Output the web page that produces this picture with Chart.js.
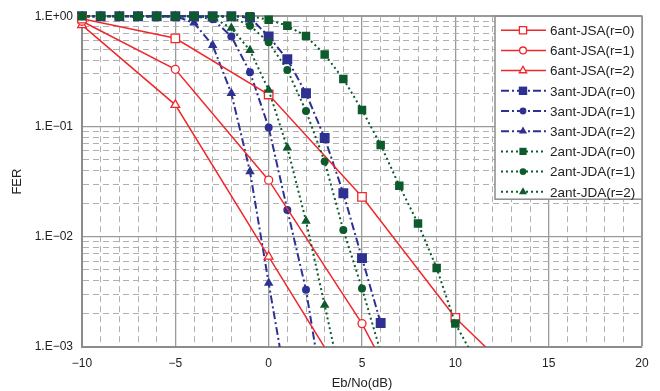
<!DOCTYPE html>
<html>
<head>
<meta charset="utf-8">
<script src="https://cdn.jsdelivr.net/npm/chart.js@4.4.1/dist/chart.umd.min.js"></script>
<style>
  html, body { margin: 0; padding: 0; background: #fff; }
  #wrap { width: 660px; height: 391px; }
</style>
</head>
<body>
<div id="wrap"><canvas id="ferChart"></canvas></div>
<script>
// FER vs Eb/No
const jsaX = [-10, -5, 0, 5, 10, 15];
const jsaR0 = [0.95, 0.63, 0.195, 0.023, 0.00184, 0.00028];
const jsaR1 = [0.90, 0.33, 0.0326, 0.00163, 0.00004];
const jsaR2 = [0.83, 0.157, 0.0066, 0.00028];

const jda3X = [-10, -9, -8, -7, -6, -5, -4, -3, -2, -1, 0, 1, 2, 3, 4, 5, 6];
const jda3R0 = [1, 1, 1, 1, 1, 1, 1, 1, 1, 0.97, 0.656, 0.407, 0.2, 0.0785, 0.0248, 0.0064, 0.00165];
const jda3R1 = [1, 1, 1, 1, 1, 1, 1, 0.94, 0.656, 0.31, 0.098, 0.0175, 0.0033, 0.0003];
const jda3R2 = [1, 1, 1, 1, 1, 1, 0.87, 0.545, 0.2, 0.039, 0.0038, 0.0004];

const jda2X = [-10, -9, -8, -7, -6, -5, -4, -3, -2, -1, 0, 1, 2, 3, 4, 5, 6, 7, 8, 9, 10, 11];
const jda2R0 = [1, 1, 1, 1, 1, 1, 1, 1, 1, 1, 0.93, 0.82, 0.66, 0.45, 0.27, 0.141, 0.068, 0.029, 0.0132, 0.0052, 0.00163, 0.0008];
const jda2R1 = [1, 1, 1, 1, 1, 1, 1, 1, 0.98, 0.82, 0.58, 0.325, 0.138, 0.048, 0.0115, 0.0034, 0.0009];
const jda2R2 = [1, 1, 1, 1, 1, 1, 1, 0.97, 0.78, 0.49, 0.214, 0.064, 0.0139, 0.0024, 0.0004];

const yDecades = [0.001, 0.01, 0.1, 1];
const yTickLabels = ['1.E\u221203', '1.E\u221202', '1.E\u221201', '1.E+00'];
const mantissas = [1, 2, 3, 4, 5, 6, 7, 8, 9];

const RED = '#f0282d';
const BLUE = '#2e3191';
const GREEN = '#0d5a2c';

function pts(xs, ys) {
    return ys.map((y, i) => ({ x: xs[i], y: y }));
}

function jsaSet(label, xs, ys, style, r) {
    return {
        label: label, data: pts(xs, ys), order: 1,
        borderColor: RED, borderWidth: 1.5, borderDash: [],
        pointStyle: style, pointRadius: r, pointBorderWidth: 1.3,
        pointBackgroundColor: '#fff', pointBorderColor: RED
    };
}
function jdaSet(label, xs, ys, color, dash, style, r, order) {
    return {
        label: label, data: pts(xs, ys), order: order,
        borderColor: color, borderWidth: 2, borderDash: dash,
        pointStyle: style, pointRadius: r, pointBorderWidth: 0,
        pointBackgroundColor: color, pointBorderColor: color
    };
}

const dashDot = [8, 3, 2, 3];
const dotted = [2, 3];

const datasets = [
    jsaSet('6ant-JSA(r=0)', jsaX, jsaR0, 'rect', 6),
    jsaSet('6ant-JSA(r=1)', jsaX, jsaR1, 'circle', 4),
    jsaSet('6ant-JSA(r=2)', jsaX, jsaR2, 'triangle', 5),
    jdaSet('3ant-JDA(r=0)', jda3X, jda3R0, BLUE, dashDot, 'rect', 7, 2),
    jdaSet('3ant-JDA(r=1)', jda3X, jda3R1, BLUE, dashDot, 'circle', 4, 2),
    jdaSet('3ant-JDA(r=2)', jda3X, jda3R2, BLUE, dashDot, 'triangle', 5.5, 2),
    jdaSet('2ant-JDA(r=0)', jda2X, jda2R0, GREEN, dotted, 'rect', 6, 0),
    jdaSet('2ant-JDA(r=1)', jda2X, jda2R1, GREEN, dotted, 'circle', 4, 0),
    jdaSet('2ant-JDA(r=2)', jda2X, jda2R2, GREEN, dotted, 'triangle', 5.5, 0)
];
datasets.forEach(d => { d.clip = { left: 8, top: 8, right: 8, bottom: 0 }; d.tension = 0; });

function drawMarker(ctx, style, x, y, r, fill, stroke, bw) {
    ctx.save();
    ctx.beginPath();
    if (style === 'rect') {
        const s = Math.SQRT1_2 * r;
        ctx.rect(x - s, y - s, 2 * s, 2 * s);
    } else if (style === 'circle') {
        ctx.arc(x, y, r, 0, Math.PI * 2);
    } else {
        ctx.moveTo(x, y - r);
        ctx.lineTo(x + r * 0.866, y + r * 0.5);
        ctx.lineTo(x - r * 0.866, y + r * 0.5);
        ctx.closePath();
    }
    ctx.fillStyle = fill;
    ctx.fill();
    if (bw > 0) {
        ctx.lineWidth = bw;
        ctx.strokeStyle = stroke;
        ctx.stroke();
    }
    ctx.restore();
}

// legend box drawn inside the top-right corner of the plot
const boxLegend = {
    id: 'boxLegend',
    afterDatasetsDraw(chart) {
        const ctx = chart.ctx;
        const area = chart.chartArea;
        const w = 147, h = 183;
        const left = area.right - w, top = area.top;
        ctx.save();
        ctx.fillStyle = '#fff';
        ctx.fillRect(left, top, w, h);
        ctx.strokeStyle = '#8c8c8c';
        ctx.lineWidth = 1.5;
        ctx.strokeRect(left, top, w, h);
        chart.data.datasets.forEach((d, i) => {
            const y = top + 14 + i * 20.2;
            ctx.save();
            ctx.strokeStyle = d.borderColor;
            ctx.lineWidth = d.borderWidth;
            ctx.setLineDash(d.borderDash);
            ctx.beginPath();
            ctx.moveTo(left + 6, y);
            ctx.lineTo(left + 51, y);
            ctx.stroke();
            ctx.restore();
            drawMarker(ctx, d.pointStyle, left + 28, y, d.pointRadius * 0.85,
                d.pointBackgroundColor, d.pointBorderColor, d.pointBorderWidth);
            ctx.fillStyle = '#222';
            ctx.font = '13.5px "Liberation Sans", Arial, sans-serif';
            ctx.textBaseline = 'middle';
            ctx.textAlign = 'left';
            ctx.fillText(d.label, left + 55, y + 1);
        });
        ctx.restore();
    }
};

const tickFont = { family: '"Liberation Sans", Arial, sans-serif', size: 12 };

new Chart(document.getElementById('ferChart').getContext('2d'), {
    type: 'line',
    data: { datasets: datasets },
    plugins: [boxLegend],
    options: {
        responsive: true,
        maintainAspectRatio: false,
        animation: false,
        devicePixelRatio: 1,
        layout: { padding: { left: 0, right: 18, top: 14, bottom: 0 } },
        plugins: { legend: { display: false }, tooltip: { enabled: false } },
        scales: {
            x: {
                type: 'linear', min: -10, max: 20,
                afterFit: s => { s.height = 44; },
                ticks: {
                    stepSize: 1, autoSkip: false, maxRotation: 0, padding: 9,
                    color: '#222', font: tickFont,
                    callback: v => (v % 5 === 0 ? (v < 0 ? '\u2212' + Math.abs(v) : String(v)) : '')
                },
                grid: {
                    drawTicks: false,
                    color: c => (c.tick && c.tick.value % 5 === 0 ? '#9a9a9a' : '#b0b0b0'),
                    lineWidth: c => (c.tick && c.tick.value === 20 ? 2 : (c.tick && c.tick.value % 5 === 0 ? 1.3 : 1))
                },
                border: {
                    color: '#8c8c8c', width: 2,
                    dash: c => (c.tick && c.tick.value % 5 !== 0 ? [6, 4] : [])
                },
                title: {
                    display: true, text: 'Eb/No(dB)', color: '#222',
                    font: { family: '"Liberation Sans", Arial, sans-serif', size: 13 },
                    padding: { top: 2, bottom: 0 }
                }
            },
            y: {
                type: 'logarithmic', min: 0.001, max: 1,
                afterFit: s => { s.width = 82; },
                afterBuildTicks: s => {
                    const t = [];
                    yDecades.slice(0, 3).forEach(d => mantissas.forEach(m => t.push({ value: d * m })));
                    t.push({ value: 1 });
                    s.ticks = t;
                },
                ticks: {
                    padding: 9, color: '#222', font: tickFont, autoSkip: false,
                    callback: v => {
                        const k = yDecades.findIndex(d => Math.abs(d - v) / d < 1e-6);
                        return k >= 0 ? yTickLabels[k] : '';
                    }
                },
                grid: {
                    drawTicks: false,
                    color: c => (c.tick && yDecades.some(d => Math.abs(d - c.tick.value) / d < 1e-6) ? '#9a9a9a' : '#b0b0b0'),
                    lineWidth: c => (c.tick && c.tick.value === 1 ? 2 : (c.tick && yDecades.some(d => Math.abs(d - c.tick.value) / d < 1e-6) ? 1.3 : 1))
                },
                border: {
                    color: '#8c8c8c', width: 2,
                    dash: c => (c.tick && !yDecades.some(d => Math.abs(d - c.tick.value) / d < 1e-6) ? [6, 4] : [])
                },
                title: {
                    display: true, text: 'FER', color: '#222',
                    font: { family: '"Liberation Sans", Arial, sans-serif', size: 13 },
                    padding: { top: 10, bottom: 0 }
                }
            }
        }
    }
});
</script>
</body>
</html>
